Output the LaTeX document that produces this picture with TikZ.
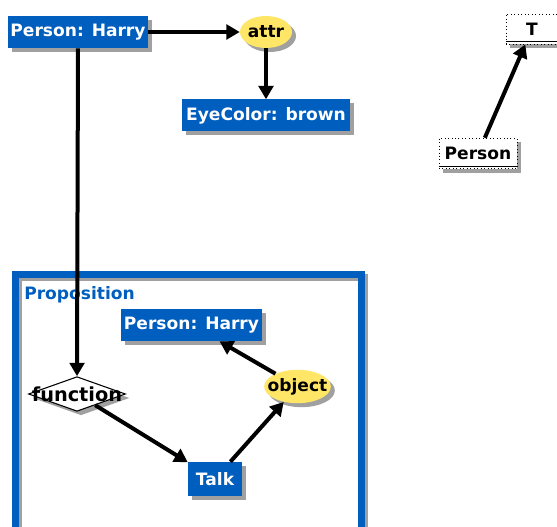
\documentclass[tikz,border=0pt]{standalone}
\usepackage{fontspec}
\setmainfont{DejaVu Sans}
\usepackage{tikz}
\usetikzlibrary{shapes.geometric,shadows,arrows.meta,positioning}
\definecolor{cgblue}{RGB}{0,94,190}
\definecolor{cgyellow}{RGB}{255,230,102}
\definecolor{cgshadow}{RGB}{160,160,160}

\begin{document}
\begin{tikzpicture}[x=0.75pt, y=-0.75pt, font=\fontsize{12.8}{15}\selectfont\bfseries,
  shade/.style={drop shadow={shadow xshift=3pt, shadow yshift=-3pt, opacity=1, fill=cgshadow}},
  concept/.style={shape=rectangle, fill=cgblue, text=white, inner sep=0pt, shade, minimum width=#1, minimum height=24pt},
  rel/.style={shape=ellipse, fill=cgyellow, inner sep=0pt, shade, minimum width=#1, minimum height=24pt},
  typ/.style={shape=rectangle, draw, dotted, semithick, fill=white, inner sep=0pt, shade, minimum width=#1, minimum height=23pt},
  link/.style={line width=3pt, -{Triangle[length=10pt,width=11pt]}}]
  \useasboundingbox[fill=white] (0,0) rectangle (557,527);

  \draw[cgshadow, line width=5.25pt] (18.5,278) rectangle (364,540);
  \draw[cgblue, line width=5.25pt] (15.5,275) rectangle (361,537);
  \node[anchor=west, text=cgblue, inner sep=0pt] (prop) at (24,295) {Proposition};

  \node[concept=105pt] (harry) at (78,32) {Person: Harry};
  \node[rel=39pt, label=center:attr] (attr) at (266,32) {};
  \node[concept=126pt] (eye) at (266,115.5) {EyeColor: brown};

  \node[typ=39pt, minimum height=22.5pt] (top) at (532,29) {T};
  \node[typ=58.5pt] (pers) at (478,153.5) {Person};
  \draw[semithick] ([yshift=2pt]top.south west) -- ([yshift=2pt]top.south east);
  \draw[semithick] ([yshift=2pt]pers.south west) -- ([yshift=2pt]pers.south east);

  \node[concept=105.75pt] (harry2) at (191.5,325) {Person: Harry};
  \node[shape=diamond, draw, thick, fill=white, inner sep=0pt, shade, minimum width=72.75pt, minimum height=26pt,
        label={[font=\fontsize{14.5}{16}\selectfont\bfseries]center:function}] (func) at (77,394) {};
  \node[rel=50pt, minimum height=25pt, label=center:object] (obj) at (297.5,386.5) {};
  \node[concept=40.5pt, minimum height=25.5pt] (talk) at (215,479) {Talk};

  \draw[link] (harry) -- (attr);
  \draw[link] (attr) -- (eye);
  \draw[link] (harry.south) -- (func.north);
  \draw[link] (func) -- (talk);
  \draw[link] (talk) -- (obj);
  \draw[link] (obj) -- (harry2);
  \draw[link] (pers) -- (top);
\end{tikzpicture}
\end{document}
